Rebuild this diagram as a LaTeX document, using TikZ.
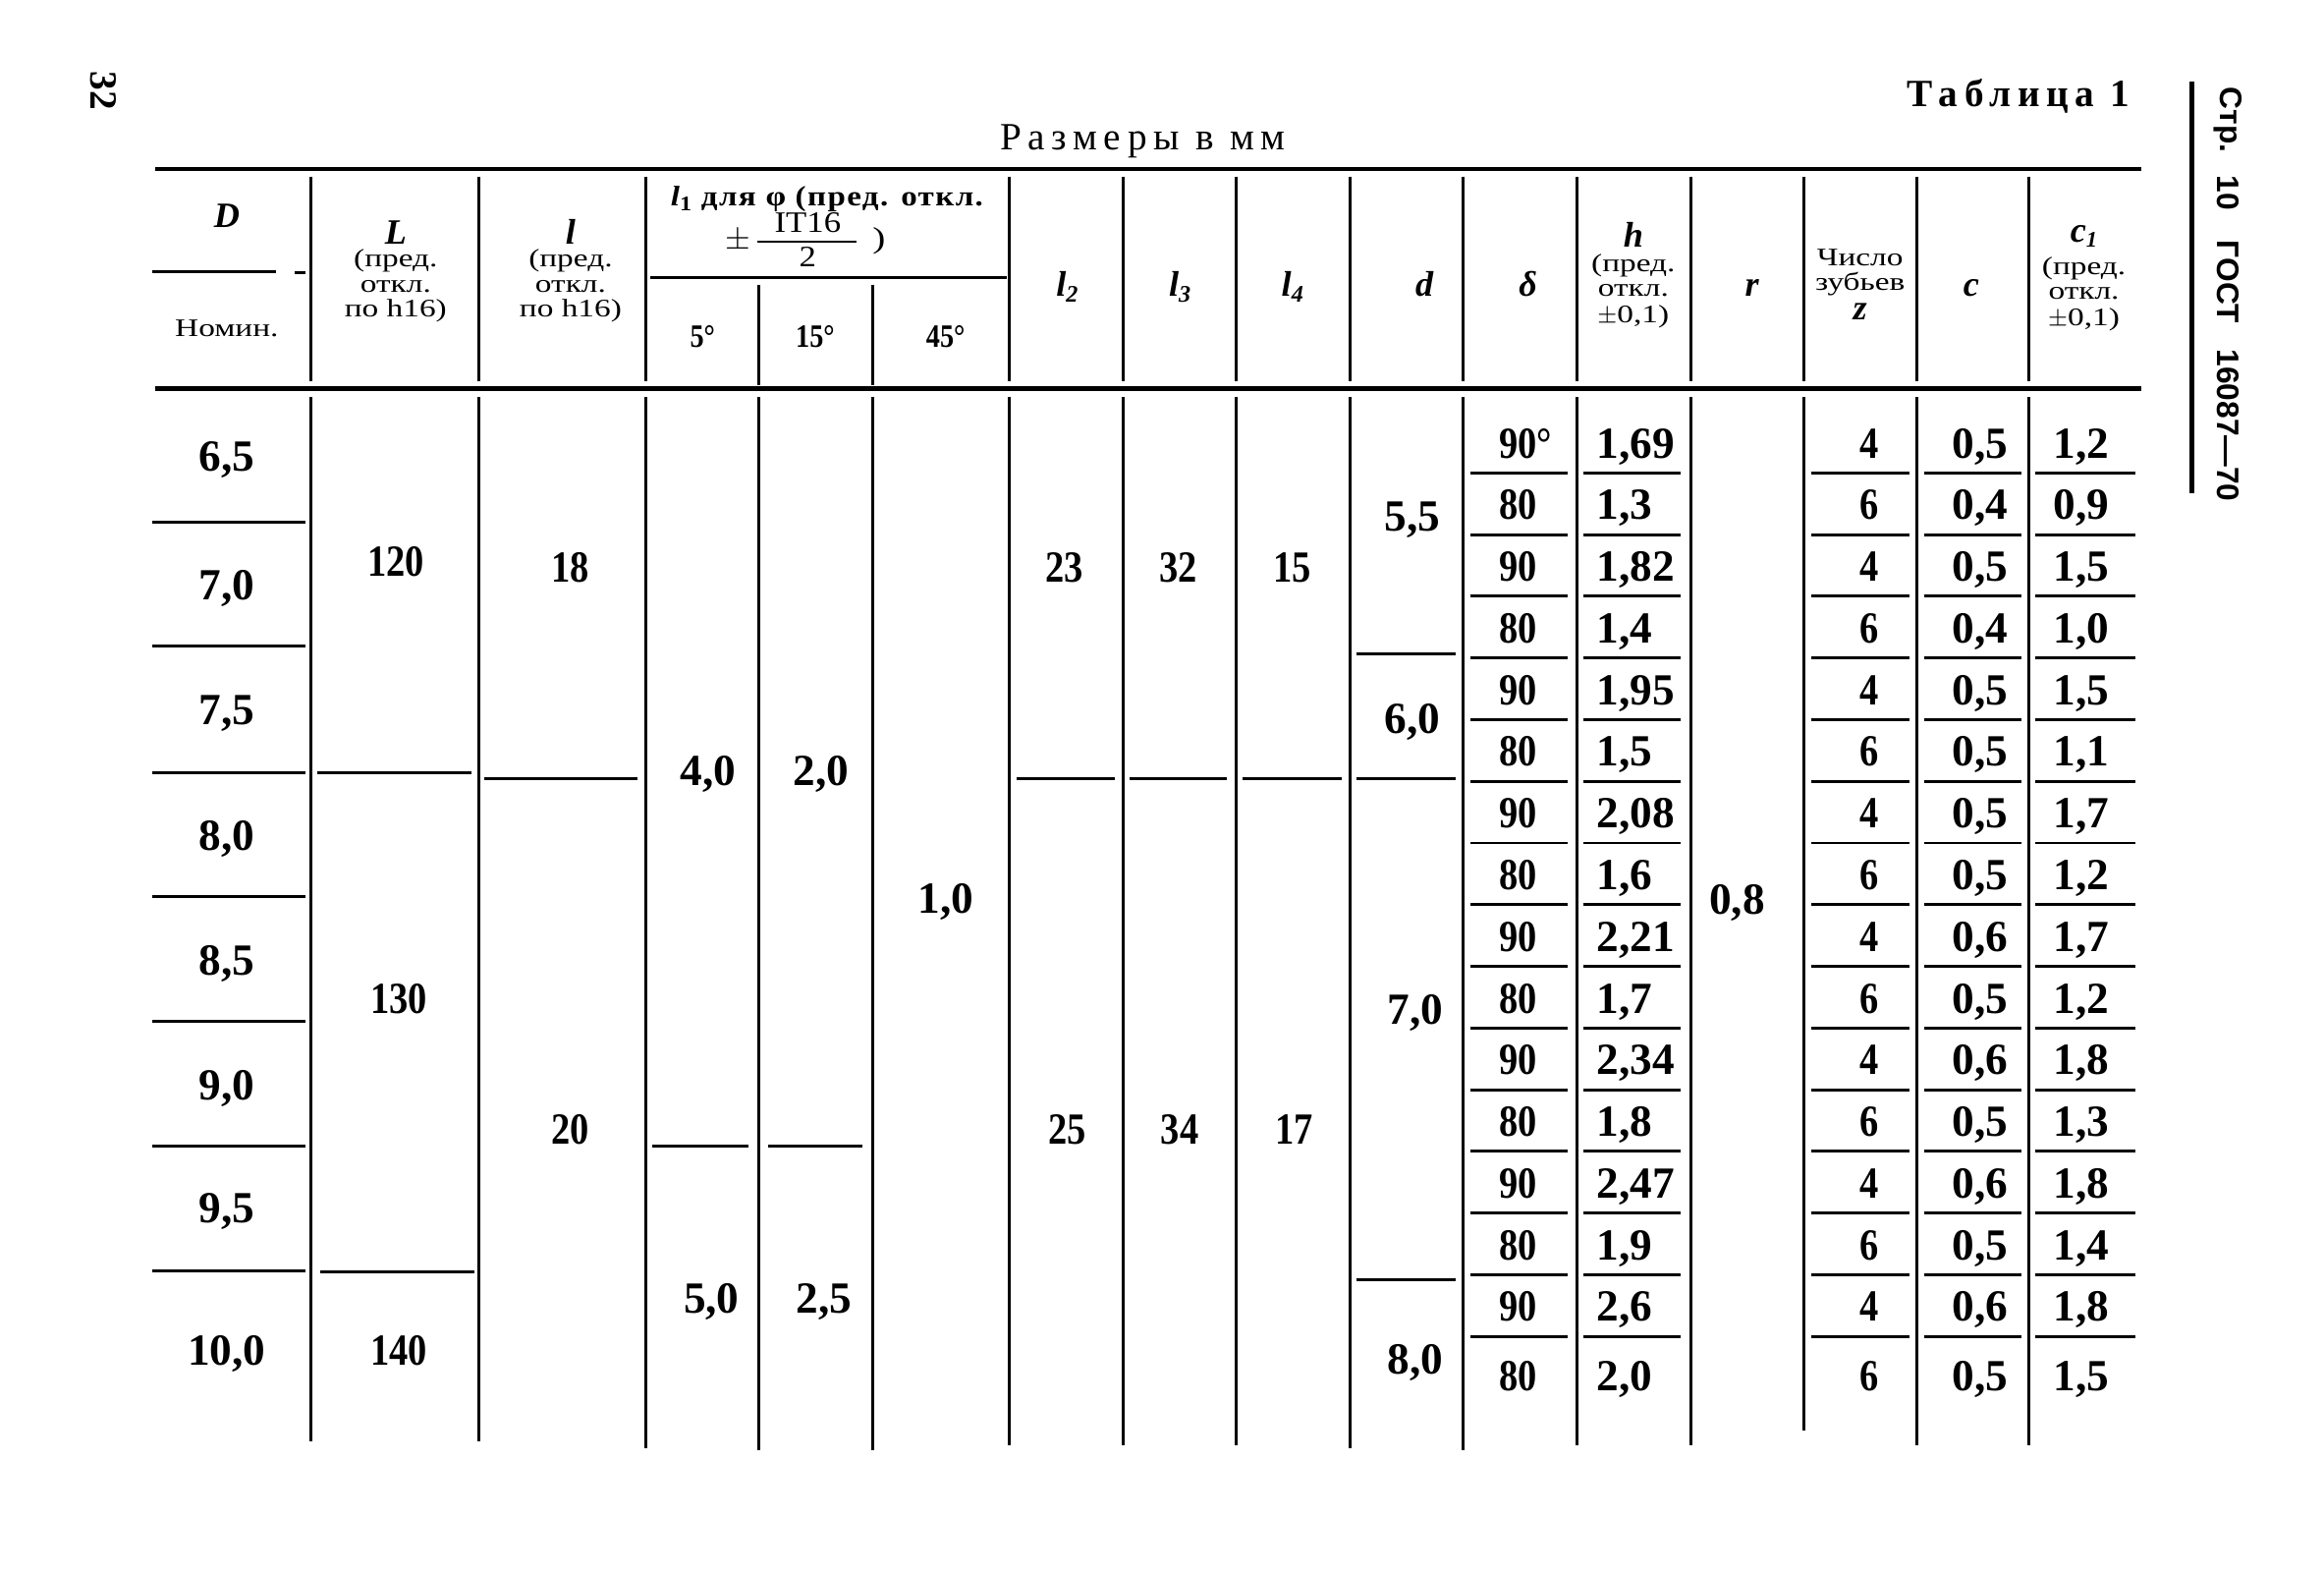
\documentclass[tikz,border=0pt]{standalone}
\usepackage{fontspec}
\setmainfont{Liberation Serif}
\newfontfamily\hdrf[FakeStretch=1.3]{Liberation Serif}
\newfontfamily\hdrg[FakeStretch=1.15]{Liberation Serif}
\newfontfamily\numc[FakeStretch=0.85]{Liberation Serif}
\newfontfamily\sansb{Liberation Sans}
\begin{document}
\begin{tikzpicture}[x=0.5pt,y=-0.5pt,
  rulew/.style={line width=1.5pt},
  vline/.style={line width=0.95pt},
  sepl/.style={line width=0.95pt},
  num/.style={inner sep=0pt, text height=9.9pt, text depth=0pt, font=\fontsize{15}{15}\selectfont\bfseries},
  intn/.style={inner sep=0pt, text height=9.9pt, text depth=0pt, font=\fontsize{15}{15}\numc\bfseries},
  hd/.style={inner sep=0pt, text height=6pt, text depth=0pt, font=\fontsize{8.5}{8.5}\hdrf},
  sym/.style={inner sep=0pt, text height=7.5pt, text depth=0pt, font=\fontsize{12}{12}\selectfont\bfseries\itshape},
  deg/.style={inner sep=0pt, text height=7pt, text depth=0pt, font=\fontsize{11}{11}\numc\bfseries}]
\useasboundingbox (0,0) rectangle (1568,1061);
\fill[white] (0,0) rectangle (1568,1061);

% page furniture
\node[rotate=-90, inner sep=0pt, font=\fontsize{13}{13}\selectfont\bfseries] (pg) at (70,61) {32};
\node[inner sep=0pt, font=\fontsize{13}{13}\selectfont\bfseries\addfontfeature{LetterSpace=17}] (title) at (1362,65) {Таблица 1};
\node[inner sep=0pt, font=\fontsize{13}{13}\selectfont\addfontfeature{LetterSpace=17}] (units) at (771,95) {Размеры в мм};
\draw[line width=1.6pt] (1479,55) -- (1479,333);
\foreach \t/\y [count=\k] in {Стр./81, 10/130, ГОСТ/190, 16087—70/287}
  \node[rotate=-90, inner sep=0pt, font=\fontsize{10.5}{10.5}\sansb\bfseries] (st\k) at (1503,\y) {\t};

% horizontal rules
\draw[rulew] (105,114) -- (1445,114);
\draw[rulew] (105,262) -- (1445,262);

% header vertical lines
\foreach \x in {210,323,436,681,758,834,911,987,1064,1141,1217,1293,1369}
  \draw[vline] (\x,119) -- (\x,257);
\draw[vline] (512,192) -- (512,260);
\draw[vline] (589,192) -- (589,260);
\draw[sepl] (439,187) -- (679,187);
\draw[sepl] (103,183) -- (186,183);
\draw[sepl] (199,184) -- (206,184);

% body vertical lines
\foreach \x/\yb in {210/972,323/972,436/977,512/978,589/978,681/975,758/975,834/975,911/977,987/978,1064/975,1141/975,1217/965,1293/975,1369/975}
  \draw[vline] (\x,268) -- (\x,\yb);

% header texts
\node[sym] (hD) at (153,146) {D};
\node[hd] (hNom) at (153,221) {Номин.};
\foreach \xx/\lt [count=\k] in {267/L,385/l}{
  \node[sym] (hs\k) at (\xx,157) {\lt};
  \node[hd] (ha\k) at (\xx,174) {(пред.};
  \node[hd] (hb\k) at (\xx,191) {откл.};
  \node[hd] (hc\k) at (\xx,208) {по h16)};
}
\node[inner sep=0pt, text height=6pt, text depth=0pt, font=\fontsize{9.5}{9.5}\hdrg\bfseries\addfontfeature{LetterSpace=5}] (hl1) at (558,133)
  {{\itshape l}\raisebox{-1.5pt}{\fontsize{7}{7}\selectfont 1} для φ (пред. откл.};
\node[hd, font=\fontsize{10}{10}\hdrg] (fnum) at (545,151) {IT16};
\node[hd, font=\fontsize{10}{10}\hdrg] (fden) at (545,174) {2};
\draw[sepl] (511,163) -- (578,163);
\node[hd, font=\fontsize{11}{11}\hdrf] (fpm) at (498,162) {$\pm$};
\node[hd, font=\fontsize{10}{10}\hdrf] (fpar) at (593,161) {)};
\node[deg] (h5) at (474,227) {5°};
\node[deg] (h15) at (550,227) {15°};
\node[deg] (h45) at (638,227) {45°};
\node[sym] (hl2) at (720,192) {l\raisebox{-2pt}{\fontsize{8}{8}\selectfont 2}};
\node[sym] (hl3) at (796,192) {l\raisebox{-2pt}{\fontsize{8}{8}\selectfont 3}};
\node[sym] (hl4) at (872,192) {l\raisebox{-2pt}{\fontsize{8}{8}\selectfont 4}};
\node[sym] (hd) at (961,192) {d};
\node[sym] (hdelta) at (1031,192) {δ};
\node[sym] (hh) at (1102,159) {h};
\node[hd] (hha) at (1102,177) {(пред.};
\node[hd] (hhb) at (1102,194) {откл.};
\node[hd] (hhc) at (1102,212) {$\pm$0,1)};
\node[sym] (hr) at (1182,192) {r};
\node[hd] (hza) at (1255,173) {Число};
\node[hd] (hzb) at (1255,190) {зубьев};
\node[sym] (hz) at (1255,208) {z};
\node[sym] (hc) at (1330,192) {c};
\node[sym] (hc1) at (1406,156) {c\raisebox{-1.5pt}{\fontsize{7.5}{7.5}\selectfont 1}};
\node[hd] (hc1a) at (1406,179) {(пред.};
\node[hd] (hc1b) at (1406,196) {откл.};
\node[hd] (hc1c) at (1406,214) {$\pm$0,1)};

% D column
\foreach \y in {352,436,521,605,689,773,857}
  \draw[sepl] (103,\y) -- (206,\y);
\foreach \v/\y [count=\k] in {{6,5}/308,{7,0}/395,{7,5}/479,{8,0}/564,{8,5}/648,{9,0}/732,{9,5}/815,{10,0}/911}
  \node[num] (D\k) at (153,\y) {\v};

% L, l, l1 columns
\draw[sepl] (214,521) -- (318,521);
\draw[sepl] (216,858) -- (320,858);
\node[intn] (L1) at (267,379) {120};
\node[intn] (L2) at (269,674) {130};
\node[intn] (L3) at (269,911) {140};
\draw[sepl] (327,525) -- (430,525);
\node[intn] (s1) at (385,383) {18};
\node[intn] (s2) at (385,762) {20};
\draw[sepl] (440,773) -- (505,773);
\draw[sepl] (518,773) -- (582,773);
\node[num] (a1) at (478,520) {4,0};
\node[num] (a2) at (480,876) {5,0};
\node[num] (b1) at (554,520) {2,0};
\node[num] (b2) at (556,876) {2,5};
\node[num] (c45) at (638,606) {1,0};

% l2 l3 l4
\foreach \a/\b in {686/752,762/828,838/905}
  \draw[sepl] (\a,525) -- (\b,525);
\node[intn] (m1) at (718,383) {23};
\node[intn] (m2) at (720,762) {25};
\node[intn] (n1) at (795,383) {32};
\node[intn] (n2) at (796,762) {34};
\node[intn] (o1) at (872,383) {15};
\node[intn] (o2) at (873,762) {17};

% d column
\foreach \y in {441,525,863}
  \draw[sepl] (915,\y) -- (982,\y);
\node[num] (dd1) at (953,348) {5,5};
\node[num] (dd2) at (953,485) {6,0};
\node[num] (dd3) at (955,681) {7,0};
\node[num] (dd4) at (955,917) {8,0};

% r column
\node[num] (rr) at (1172,607) {0,8};

% fine rows
\foreach \i in {0,...,14}{
  \pgfmathsetmacro\yy{319+41.6*\i}
  \foreach \a/\b in {992/1058,1068/1134,1222/1288,1298/1364,1373/1441}
    \draw[sepl] (\a,\yy) -- (\b,\yy);
}
\foreach \dv/\hv/\zv/\cv/\cav [count=\k from 0] in {
  {90°}/{1,69}/4/{0,5}/{1,2},
  80/{1,3}/6/{0,4}/{0,9},
  90/{1,82}/4/{0,5}/{1,5},
  80/{1,4}/6/{0,4}/{1,0},
  90/{1,95}/4/{0,5}/{1,5},
  80/{1,5}/6/{0,5}/{1,1},
  90/{2,08}/4/{0,5}/{1,7},
  80/{1,6}/6/{0,5}/{1,2},
  90/{2,21}/4/{0,6}/{1,7},
  80/{1,7}/6/{0,5}/{1,2},
  90/{2,34}/4/{0,6}/{1,8},
  80/{1,8}/6/{0,5}/{1,3},
  90/{2,47}/4/{0,6}/{1,8},
  80/{1,9}/6/{0,5}/{1,4},
  90/{2,6}/4/{0,6}/{1,8},
  80/{2,0}/6/{0,5}/{1,5}}{
  \pgfmathsetmacro\yy{\k<15 ? 299+41.6*\k : 928}
  \node[intn, anchor=west] (dl\k) at (1011,\yy) {\dv};
  \node[num, anchor=west] (hv\k) at (1077,\yy) {\hv};
  \node[intn] (zv\k) at (1261,\yy) {\zv};
  \node[num] (cv\k) at (1336,\yy) {\cv};
  \node[num, anchor=west] (ca\k) at (1385,\yy) {\cav};
}
\end{tikzpicture}
\end{document}
